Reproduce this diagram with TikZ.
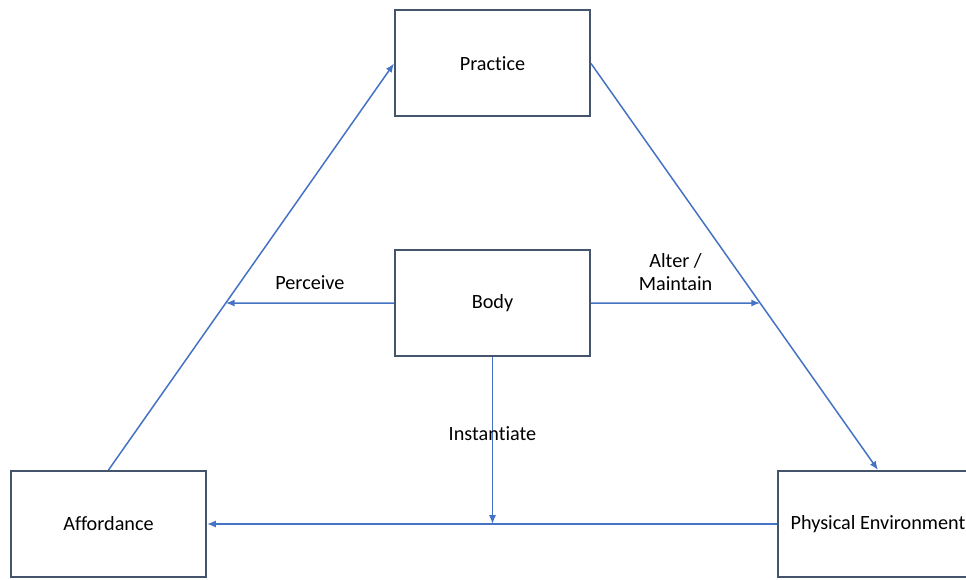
\documentclass[tikz,border=0pt]{standalone}
\usepackage{fontspec}
\setmainfont{Carlito}[Ligatures=NoCommon]
\usetikzlibrary{arrows.meta}
\definecolor{boxline}{HTML}{44546A}
\definecolor{arrowblue}{HTML}{4472C4}
\begin{document}
\begin{tikzpicture}[font=\fontsize{11.5}{13.5}\selectfont,
    box/.style={rectangle, draw=boxline, line width=0.4mm, align=center, minimum width=3.9cm, minimum height=2.12cm},
    link/.style={-{Latex[length=5pt,width=4pt]}, draw=arrowblue, line width=0.3mm}]
        \useasboundingbox (0, 0) rectangle (19.32, -11.58);
        \node (practice) at (9.85, -1.27) [box] {Practice};
        \node (body) at (9.85, -6.06) [box] {Body};
        \node (affordance) at (2.17, -10.48) [box] {Affordance};
        \node (environment) at (17.56, -10.48) [box, minimum width=4cm] {Physical Environment};
        \coordinate (perceiveend) at (intersection of affordance.north--practice.west and body.west--body.east);
        \coordinate (alterend) at (intersection of practice.east--environment.north and body.west--body.east);
        \draw[link] (affordance.north) -- (practice.west);
        \draw[link] (practice.east) -- (environment.north);
        \draw[link] (body.west) -- node[above=4pt] {Perceive} (perceiveend);
        \draw[link] (body.east) -- node[above=3pt, align=center] {Alter /\\ Maintain} (alterend);
        \draw[link] (environment.west) -- (affordance.east);
        \draw[link] (body.south) -- node[pos=0.46] {Instantiate} (body.south |- environment.west);
    \end{tikzpicture}
\end{document}
